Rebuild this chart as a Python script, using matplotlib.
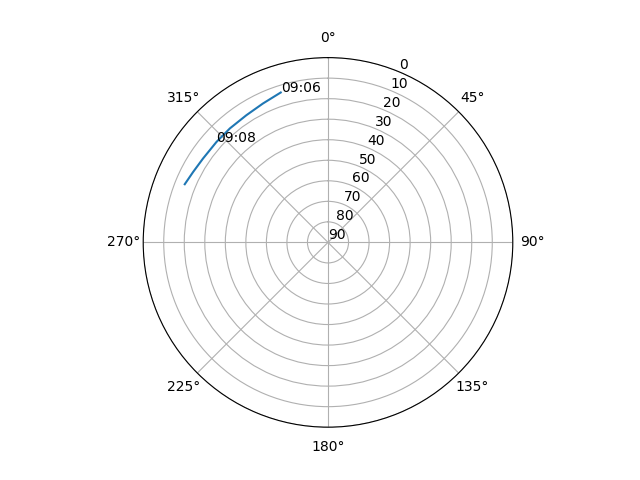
import numpy as np
import matplotlib
matplotlib.use("Agg")
import matplotlib.pyplot as plt

# Satellite pass: azimuth (deg), elevation (deg)
azimuth = [342.5, 334.9, 327.3, 319.3, 312.0, 303.9, 297.6, 292.1]
elevation = [13.45, 15.3, 16.4, 16.75, 16.9, 16.7, 15.9, 14.7]
time_labels = ["09:06", "", "", "", "09:08", "", "", ""]
r_ticks = [0, 10, 20, 30, 40, 50, 60, 70, 80, 90]

fig = plt.figure(figsize=(6.4, 4.8), dpi=100)
ax = fig.add_subplot(111, projection="polar")
ax.set_theta_zero_location("N")
ax.set_theta_direction(-1)

theta = np.deg2rad(azimuth)
ax.plot(theta, elevation)
for t, r, lab in zip(theta, elevation, time_labels):
    if lab:
        ax.text(t, r, lab)

ax.set_rlim(90, 0)
ax.set_yticks(r_ticks)
ax.set_yticklabels([str(v) for v in r_ticks])

fig.savefig("out.png", dpi=100)
